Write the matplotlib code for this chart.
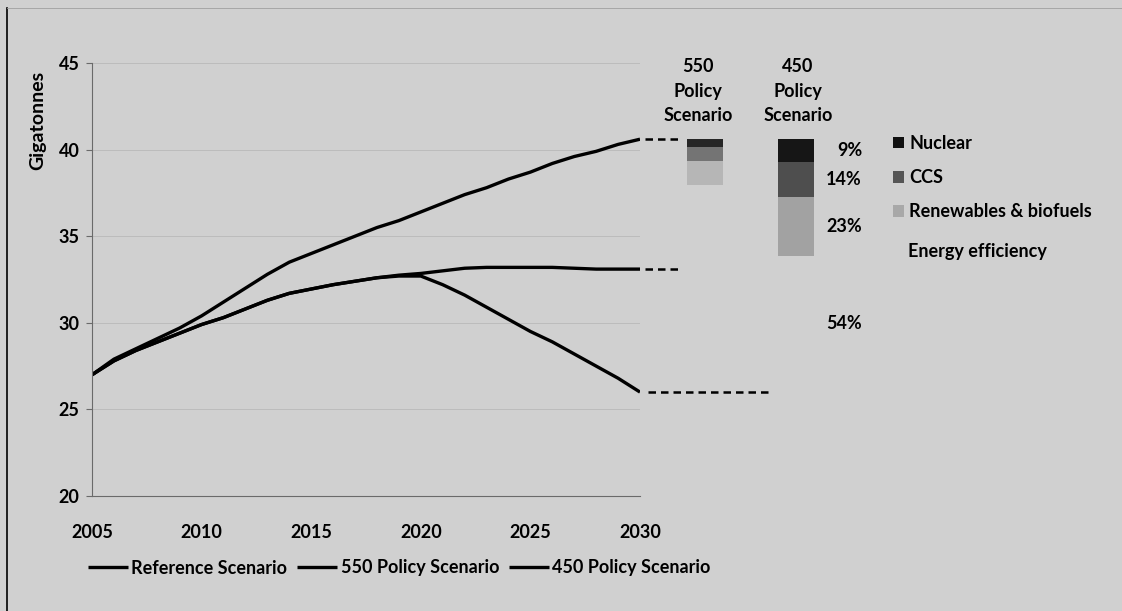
import matplotlib
matplotlib.use('Agg')
import matplotlib.pyplot as plt
from matplotlib.patches import Patch
from matplotlib.lines import Line2D

# ---------------- data ----------------
years = list(range(2005, 2031))
reference = [27.0, 27.9, 28.5, 29.1, 29.7, 30.4, 31.2, 32.0, 32.8, 33.5,
             34.0, 34.5, 35.0, 35.5, 35.9, 36.4, 36.9, 37.4, 37.8, 38.3,
             38.7, 39.2, 39.6, 39.9, 40.3, 40.6]
policy550 = [27.0, 27.8, 28.4, 28.9, 29.4, 29.9, 30.3, 30.8, 31.3, 31.7,
             31.95, 32.2, 32.4, 32.6, 32.75, 32.85, 33.0, 33.15, 33.2, 33.2,
             33.2, 33.2, 33.15, 33.1, 33.1, 33.1]
policy450 = [27.0, 27.8, 28.4, 28.9, 29.4, 29.9, 30.3, 30.8, 31.3, 31.7,
             31.95, 32.2, 32.4, 32.6, 32.7, 32.7, 32.2, 31.6, 30.9, 30.2,
             29.5, 28.9, 28.2, 27.5, 26.8, 26.0]
scenario_labels = ['Reference Scenario', '550 Policy Scenario', '450 Policy Scenario']

levers = ['Nuclear', 'CCS', 'Renewables & biofuels', 'Energy efficiency']
share450 = [9, 14, 23, 54]
share550 = [6, 11, 18, 65]
bar_headers = ['550\nPolicy\nScenario', '450\nPolicy\nScenario']

x_ticks = [2005, 2010, 2015, 2020, 2025, 2030]
y_ticks = [20, 25, 30, 35, 40, 45]

# ---------------- style ----------------
BG = '#d0d0d0'
plt.rcParams['font.family'] = ['Lato', 'DejaVu Sans']
plt.rcParams['font.weight'] = 'bold'
FS = 13

W, H = 1122, 611
def fx(px):
    return px / W
def fy(py):
    return 1 - py / H

fig = plt.figure(figsize=(W / 100, H / 100), dpi=100)
fig.patch.set_facecolor(BG)

# main axes
ax = fig.add_axes([fx(92), fy(496), fx(640) - fx(92), fy(63) - fy(496)])
ax.set_facecolor('none')
ax.set_xlim(2005, 2030)
ax.set_ylim(20, 45)
ax.set_xticks(x_ticks)
ax.set_yticks(y_ticks)
ax.grid(axis='y', color='#b4b4b4', lw=0.5)
ax.set_axisbelow(True)
for s in ['top', 'right']:
    ax.spines[s].set_visible(False)
for s in ['left', 'bottom']:
    ax.spines[s].set_color('#6a6a6a')
    ax.spines[s].set_linewidth(0.8)
ax.tick_params(axis='x', length=0, pad=20, labelsize=FS)
ax.tick_params(axis='y', length=4, pad=5, labelsize=FS, color='#6a6a6a', width=0.8)
for lab in ax.get_xticklabels() + ax.get_yticklabels():
    lab.set_fontweight('bold')

line_handles = []
for series in (reference, policy550, policy450):
    h, = ax.plot(years, series, color='black', lw=2.4, solid_capstyle='butt')
    line_handles.append(h)

fig.text(fx(38), fy(120), 'Gigatonnes', rotation=90, ha='center', va='center',
         fontsize=14, fontweight='bold')

# right-hand panel (same vertical scale)
ax2 = fig.add_axes([fx(640), fy(496), fx(1122) - fx(640), fy(63) - fy(496)])
ax2.set_xlim(0, 482)
ax2.set_ylim(20, 45)
ax2.axis('off')
ax2.patch.set_visible(False)

dash = (0, (3, 2))
ax2.plot([5, 42], [reference[-1]] * 2, ls=dash, color='black', lw=1.8)
ax2.plot([5, 42], [policy550[-1]] * 2, ls=dash, color='black', lw=1.8)
ax2.plot([8, 132], [policy450[-1]] * 2, ls=dash, color='black', lw=1.8)

cols550 = ['#262626', '#747474', '#b6b6b6', BG]
cols450 = ['#161616', '#4e4e4e', '#a2a2a2', BG]

def stack(xc, total_from, total_to, shares, cols, labels=False):
    red = total_from - total_to
    top = total_from
    for sh, c in zip(shares, cols):
        h = red * sh / 100.0
        ax2.bar(xc, h, bottom=top - h, width=36, color=c, lw=0)
        if labels:
            ax2.text(222, top - h / 2, f'{sh}%', ha='right', va='center',
                     fontsize=FS, fontweight='bold')
        top -= h

stack(65, reference[-1], policy550[-1], share550, cols550)
stack(156, reference[-1], policy450[-1], share450, cols450, labels=True)

fig.text(fx(698), fy(91), bar_headers[0], ha='center', va='center',
         fontsize=FS, fontweight='bold', linespacing=1.55)
fig.text(fx(798), fy(91), bar_headers[1], ha='center', va='center',
         fontsize=FS, fontweight='bold', linespacing=1.55)

lever_handles = [Patch(facecolor=c, edgecolor='none') for c in ['#111111', '#555555', '#a8a8a8']]
fig.legend(lever_handles, levers[:3], loc='upper left',
           bbox_to_anchor=(fx(893), fy(135)), bbox_transform=fig.transFigure,
           frameon=False, handlelength=0.6, handleheight=0.6, handletextpad=0.3,
           labelspacing=0.95, borderpad=0, borderaxespad=0, fontsize=FS)
fig.text(fx(908), fy(252), levers[3], ha='left', va='center',
         fontsize=FS, fontweight='bold')

fig.legend(line_handles, scenario_labels, loc='center left',
           bbox_to_anchor=(fx(88), fy(568)), bbox_transform=fig.transFigure,
           ncol=3, frameon=False, handlelength=2.2, handletextpad=0.2,
           columnspacing=0.55, borderpad=0, borderaxespad=0, fontsize=FS)

# scan border
fig.add_artist(Line2D([fx(7), fx(7)], [fy(8), 0], color='black', lw=1.2,
                      transform=fig.transFigure))
fig.add_artist(Line2D([fx(7), 1], [fy(8), fy(8)], color='#a0a0a0', lw=0.6,
                      transform=fig.transFigure))

fig.savefig('out.png', dpi=100, facecolor=BG)
